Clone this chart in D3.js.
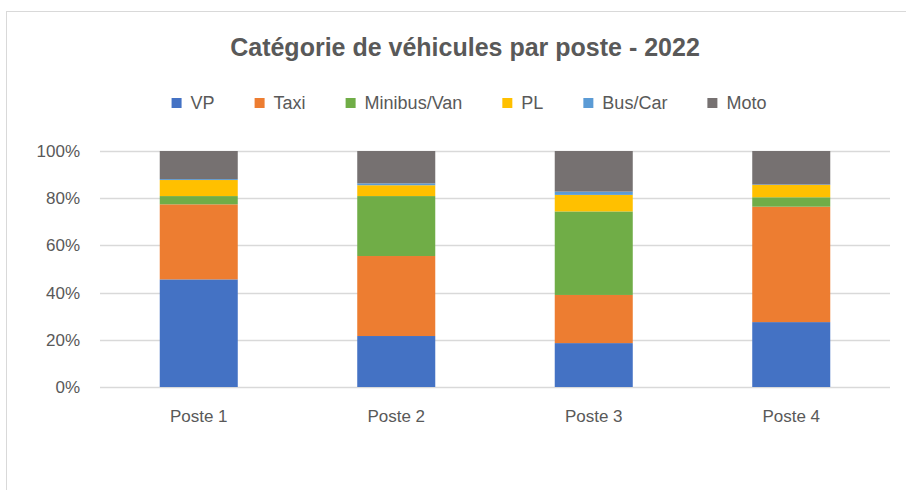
<!DOCTYPE html>
<html>
<head>
<meta charset="utf-8">
<script src="https://cdn.jsdelivr.net/npm/d3@7"></script>
<style>
  body { margin: 0; background: #fff; }
  text { font-family: "Liberation Sans Narrow", "Liberation Sans", sans-serif; fill: #595959; }
</style>
</head>
<body>
<svg id="chart" width="906" height="490"></svg>
<script>
'use strict';

// Data
const postes   = ['Poste 1', 'Poste 2', 'Poste 3', 'Poste 4'];
const series   = ['VP', 'Taxi', 'Minibus/Van', 'PL', 'Bus/Car', 'Moto'];
const vp       = [45.6, 21.6, 18.6, 27.5];
const taxi     = [31.8, 33.9, 20.4, 48.9];
const minibus  = [3.5, 25.4, 35.4, 4.0];
const pl       = [6.8, 4.6, 7.0, 5.2];
const busCar   = [0.4, 0.8, 1.4, 0.2];
const moto     = [11.9, 13.7, 17.2, 14.2];
const yTicks   = [0, 0.2, 0.4, 0.6, 0.8, 1];
const colors   = ['#4472c4', '#ed7d31', '#70ad47', '#ffc000', '#5b9bd5', '#767171'];
const title    = 'Catégorie de véhicules par poste - 2022';

const columns = [vp, taxi, minibus, pl, busCar, moto];
const rows = postes.map((p, i) => {
    const r = {poste: p};
    series.forEach((s, k) => { r[s] = columns[k][i]; });
    return r;
});

const svg = d3.select('#chart');

// chart frame (extends past the window on right and bottom)
svg.append('rect')
    .attr('x', 6.5).attr('y', 11.5)
    .attr('width', 1000).attr('height', 1000)
    .attr('fill', '#fff')
    .attr('stroke', '#d9d9d9');

const plotLeft = 100, plotRight = 890,
      plotTop = 151, plotBottom = 387;

const x = d3.scaleBand().domain(postes).range([plotLeft, plotRight]).paddingInner(0.605).paddingOuter(0.3025);
const y = d3.scaleLinear().domain([0, 1]).range([plotBottom, plotTop]);
const color = d3.scaleOrdinal().domain(series).range(colors);

const stacked = d3.stack().keys(series).offset(d3.stackOffsetExpand)(rows);

// gridlines
svg.append('g')
    .selectAll('line')
    .data(yTicks)
    .join('line')
    .attr('x1', plotLeft).attr('x2', plotRight)
    .attr('y1', d => Math.round(y(d)) + 0.5)
    .attr('y2', d => Math.round(y(d)) + 0.5)
    .attr('stroke', '#d9d9d9')
    .attr('stroke-width', 1.3);

// y axis labels
const yAxis = svg.append('g')
    .attr('transform', `translate(${plotLeft},0)`)
    .call(d3.axisLeft(y).tickValues(yTicks).tickFormat(d3.format('.0%')).tickSize(0).tickPadding(20));
yAxis.select('.domain').remove();
yAxis.selectAll('text')
    .attr('font-size', 17)
    .attr('font-family', null)
    .attr('fill', '#595959');

// bars
svg.append('g')
    .selectAll('g')
    .data(stacked)
    .join('g')
    .attr('fill', d => color(d.key))
    .selectAll('rect')
    .data(d => d)
    .join('rect')
    .attr('x', d => x(d.data.poste))
    .attr('width', x.bandwidth())
    .attr('y', d => y(d[1]))
    .attr('height', d => y(d[0]) - y(d[1]));

// x axis labels
const xAxis = svg.append('g')
    .attr('transform', `translate(0,${plotBottom})`)
    .call(d3.axisBottom(x).tickSize(0).tickPadding(23));
xAxis.select('.domain').remove();
xAxis.selectAll('text')
    .attr('font-size', 17)
    .attr('font-family', null)
    .attr('fill', '#595959');

// title
svg.append('text')
    .attr('x', 465).attr('y', 56)
    .attr('text-anchor', 'middle')
    .attr('font-size', 25)
    .attr('font-weight', 'bold')
    .text(title);

// legend, laid out from measured text widths
const legend = svg.append('g');
const items = legend.selectAll('g')
    .data(series)
    .join('g');
items.append('rect')
    .attr('width', 10).attr('height', 10)
    .attr('y', -5)
    .attr('fill', d => color(d));
items.append('text')
    .attr('x', 19)
    .attr('dy', '0.35em')
    .attr('font-size', 18)
    .text(d => d);

const gap = 40;
let cx = 0;
items.each(function() {
    const w = this.querySelector('text').getComputedTextLength();
    d3.select(this).attr('transform', `translate(${cx},0)`);
    cx += 19 + w + gap;
});
const total = cx - gap;
legend.attr('transform', `translate(${469 - total / 2},103)`);
</script>
</body>
</html>
